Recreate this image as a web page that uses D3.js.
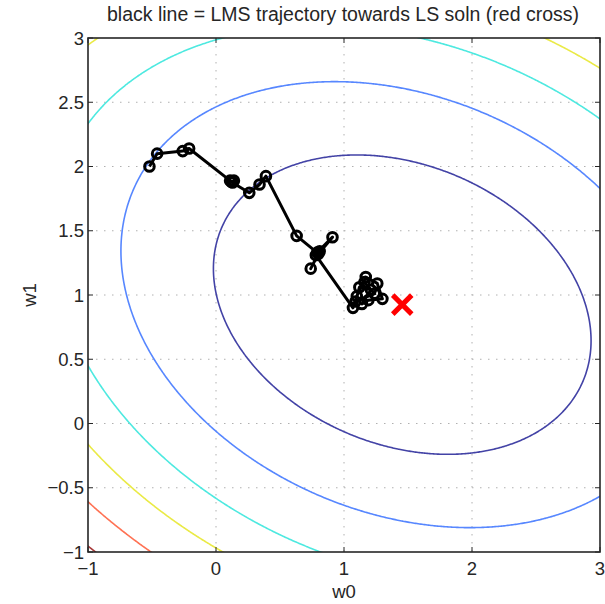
<!DOCTYPE html>
<html>
<head>
<meta charset="utf-8">
<script src="https://cdn.jsdelivr.net/npm/d3@7"></script>
<style>
  html, body { margin: 0; padding: 0; background: #fff; }
  svg { display: block; }
  text { font-family: "Liberation Sans", Arial, Helvetica, sans-serif; fill: #262626; }
</style>
</head>
<body>
<svg id="chart" width="605" height="604"></svg>
<script>
// ---------------- data ----------------
const titleText = "black line = LMS trajectory towards LS soln (red cross)";
const xTicks = [-1, 0, 1, 2, 3];
const xTickLabels = ["\u22121", "0", "1", "2", "3"];
const yTicks = [-1, -0.5, 0, 0.5, 1, 1.5, 2, 2.5, 3];
const yTickLabels = ["\u22121", "\u22120.5", "0", "0.5", "1", "1.5", "2", "2.5", "3"];

// LS solution (red cross) = centre of the quadratic error surface
const lsSolution = [1.455, 0.925];
// quadratic form of the error surface (w - w*)^T R (w - w*)
const quadR = [[1.0, 0.305], [0.305, 1.604]];
// contour levels and their colours
const contourLevels = [2.05, 4.55, 7.1, 9.55, 12.1, 14.5];
const contourColors = ["#4343a6", "#5787ff", "#4ee9e0", "#eaea46", "#ff7254", "#a83a3a"];

// LMS trajectory
const trajW0 = [-0.52, -0.46, -0.26, -0.21, 0.11, 0.13, 0.14, 0.12, 0.26, 0.34, 0.39, 0.63,
                0.79, 0.91, 0.80, 0.74, 0.81, 0.78,
                1.07, 1.10, 1.17, 1.26, 1.30, 1.19, 1.14, 1.21, 1.12, 1.09, 1.24, 1.16];
const trajW1 = [2.00, 2.10, 2.12, 2.14, 1.89, 1.875, 1.89, 1.88, 1.795, 1.86, 1.925, 1.46,
                1.33, 1.45, 1.32, 1.205, 1.34, 1.31,
                0.90, 0.99, 1.14, 1.09, 0.97, 0.96, 0.93, 1.04, 1.06, 0.95, 1.01, 1.10];

// ---------------- layout ----------------
const svg = d3.select("#chart");
const L = 88, R = 600, T = 38, B = 552;
const x = d3.scaleLinear().domain([-1, 3]).range([L, R]);
const y = d3.scaleLinear().domain([-1, 3]).range([B, T]);

svg.append("defs").append("clipPath").attr("id", "plotclip")
  .append("rect").attr("x", L).attr("y", T).attr("width", R - L).attr("height", B - T);

// grid
const grid = svg.append("g");
xTicks.filter(v => v > -1 && v < 3).forEach(v => {
  grid.append("line").attr("x1", x(v)).attr("x2", x(v)).attr("y1", T).attr("y2", B)
    .attr("stroke", "#b0b0b0").attr("stroke-width", 1).attr("stroke-dasharray", "1.5,6.5");
});
yTicks.filter(v => v > -1 && v < 3).forEach(v => {
  grid.append("line").attr("y1", y(v)).attr("y2", y(v)).attr("x1", L).attr("x2", R)
    .attr("stroke", "#b0b0b0").attr("stroke-width", 1).attr("stroke-dasharray", "1.5,6.5");
});

// contours of the quadratic surface
const g0 = -1.2, g1 = 3.2, step = 0.01;
const n = Math.round((g1 - g0) / step) + 1;
const values = new Float64Array(n * n);
for (let j = 0; j < n; j++) {
  const w1 = g1 - j * step;
  for (let i = 0; i < n; i++) {
    const w0 = g0 + i * step;
    const d0 = w0 - lsSolution[0], d1 = w1 - lsSolution[1];
    values[i + j * n] = quadR[0][0] * d0 * d0 + 2 * quadR[0][1] * d0 * d1 + quadR[1][1] * d1 * d1;
  }
}
const contourGen = d3.contours().size([n, n]).thresholds(contourLevels);
const proj = d3.geoTransform({
  point: function(gx, gy) {
    this.stream.point(x(g0 + (gx - 0.5) * step), y(g1 - (gy - 0.5) * step));
  }
});
const path = d3.geoPath(proj);
const cg = svg.append("g").attr("clip-path", "url(#plotclip)");
contourGen(values).forEach((c, k) => {
  cg.append("path").attr("d", path(c)).attr("fill", "none")
    .attr("stroke", contourColors[k]).attr("stroke-width", 1.6);
});

// trajectory
const traj = trajW0.map((v, i) => [v, trajW1[i]]);
const tg = svg.append("g").attr("clip-path", "url(#plotclip)");
tg.append("path").attr("d", d3.line().x(d => x(d[0])).y(d => y(d[1]))(traj))
  .attr("fill", "none").attr("stroke", "#000").attr("stroke-width", 3).attr("stroke-linejoin", "round");
tg.selectAll("circle").data(traj).join("circle")
  .attr("cx", d => x(d[0])).attr("cy", d => y(d[1])).attr("r", 4.8)
  .attr("fill", "none").attr("stroke", "#000").attr("stroke-width", 3);

// red cross
const cx = x(lsSolution[0]), cy = y(lsSolution[1]), h = 9.5;
tg.append("path")
  .attr("d", `M${cx - h},${cy - h}L${cx + h},${cy + h}M${cx - h},${cy + h}L${cx + h},${cy - h}`)
  .attr("stroke", "#ff0000").attr("stroke-width", 5).attr("fill", "none");

// frame + ticks
const fg = svg.append("g");
fg.append("rect").attr("x", L).attr("y", T).attr("width", R - L).attr("height", B - T)
  .attr("fill", "none").attr("stroke", "#262626").attr("stroke-width", 1.6);
const tl = 5;
xTicks.forEach(v => {
  fg.append("line").attr("x1", x(v)).attr("x2", x(v)).attr("y1", B).attr("y2", B - tl).attr("stroke", "#262626");
  fg.append("line").attr("x1", x(v)).attr("x2", x(v)).attr("y1", T).attr("y2", T + tl).attr("stroke", "#262626");
});
yTicks.forEach(v => {
  fg.append("line").attr("y1", y(v)).attr("y2", y(v)).attr("x1", L).attr("x2", L + tl).attr("stroke", "#262626");
  fg.append("line").attr("y1", y(v)).attr("y2", y(v)).attr("x1", R).attr("x2", R - tl).attr("stroke", "#262626");
});

// tick labels
xTicks.forEach((v, i) => {
  svg.append("text").attr("x", x(v)).attr("y", B + 23).attr("text-anchor", "middle")
    .attr("font-size", 18.5).text(xTickLabels[i]);
});
yTicks.forEach((v, i) => {
  svg.append("text").attr("x", L - 4).attr("y", y(v) + 6.5).attr("text-anchor", "end")
    .attr("font-size", 18.5).text(yTickLabels[i]);
});

// axis labels
svg.append("text").attr("x", (L + R) / 2).attr("y", 598).attr("text-anchor", "middle")
  .attr("font-size", 18.5).text("w0");
svg.append("text").attr("transform", `translate(36,${(T + B) / 2}) rotate(-90)`)
  .attr("text-anchor", "middle").attr("font-size", 18.5).text("w1");

// title
svg.append("text").attr("x", (L + R) / 2 - 1).attr("y", 21).attr("text-anchor", "middle")
  .attr("font-size", 19.5).text(titleText);
</script>
</body>
</html>
